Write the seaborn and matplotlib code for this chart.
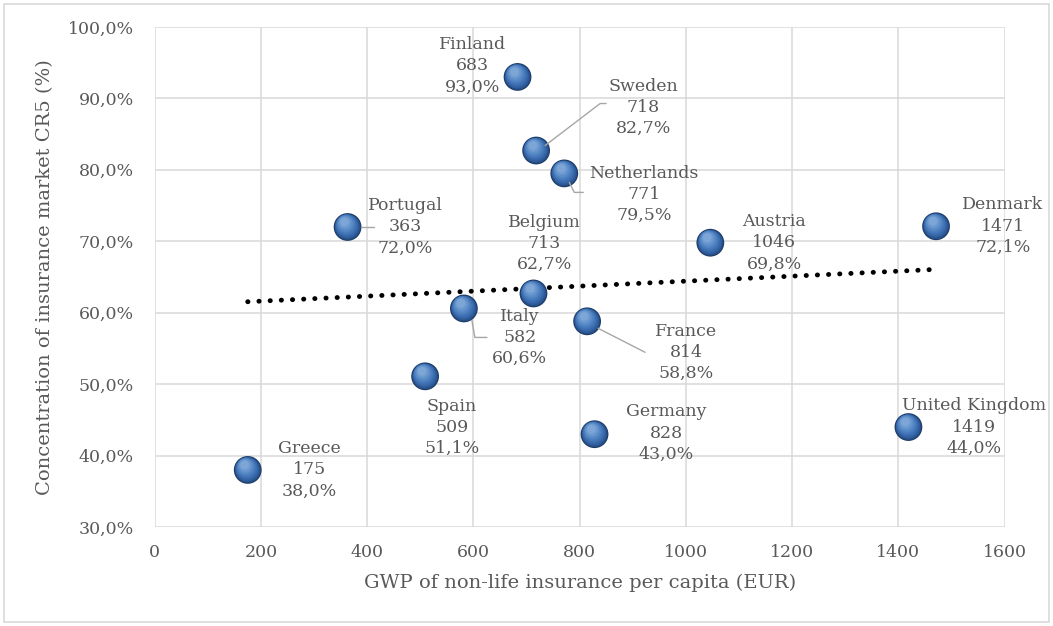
import numpy as np
import pandas as pd
import seaborn as sns
import matplotlib
matplotlib.use("Agg")
import matplotlib.pyplot as plt
from matplotlib.lines import Line2D
from matplotlib.patches import Rectangle
from matplotlib.transforms import IdentityTransform, offset_copy

# --- data -------------------------------------------------------------
countries = ["Greece", "Portugal", "Spain", "Italy", "Finland", "Belgium",
             "Sweden", "Netherlands", "France", "Germany", "Austria",
             "United Kingdom", "Denmark"]
gwp_per_capita = [175, 363, 509, 582, 683, 713, 718, 771, 814, 828, 1046,
                  1419, 1471]
cr5_pct = [38.0, 72.0, 51.1, 60.6, 93.0, 62.7, 82.7, 79.5, 58.8, 43.0, 69.8,
           44.0, 72.1]

df = pd.DataFrame({"country": countries, "gwp": gwp_per_capita, "cr5": cr5_pct})

# label placement (pixel offsets from the marker, y up)
label_offsets = {
    "Greece": (62, 0), "Portugal": (58, 0), "Spain": (27, -51),
    "Italy": (56, -29), "Finland": (-45, 11), "Belgium": (11, 50),
    "Sweden": (107, 43), "Netherlands": (80, -21), "France": (99, -31),
    "Germany": (72, 1), "Austria": (64, 0), "United Kingdom": (66, 0),
    "Denmark": (67, 0),
}
# leader lines (pixel offsets from the marker, y up)
leaders = {
    "Portugal": [(13, 0), (26, 0)],
    "Sweden": [(9, 5), (64, 47), (70, 47)],
    "Netherlands": [(5, -9), (10, -19), (19, -19)],
    "Italy": [(8, -12), (11, -29), (23, -29)],
    "France": [(11, -7), (58, -31)],
}

# --- styling ----------------------------------------------------------
sns.set_theme(style="white")
plt.rcParams["font.family"] = ["DejaVu Serif"]
text_grey = "#595959"
grid_grey = "#D9D9D9"

fig = plt.figure(figsize=(10.53, 6.26), dpi=100)
ax = fig.add_axes([0.147, 0.158, 0.807, 0.799])

ax.set_xlim(0, 1600)
ax.set_ylim(30, 100)
ax.set_xticks(np.arange(0, 1601, 200))
ax.set_yticks(np.arange(30, 101, 10))
ax.set_yticklabels([f"{v:.1f}%".replace(".", ",") for v in np.arange(30, 101, 10)])
ax.tick_params(axis="y", colors=text_grey, labelsize=12.5, length=0, pad=15)
ax.tick_params(axis="x", colors=text_grey, labelsize=12.5, length=0, pad=12)
ax.grid(True, color=grid_grey, linewidth=1.1)
ax.set_axisbelow(True)
for s in ax.spines.values():
    s.set_visible(False)

ax.set_xlabel("GWP of non-life insurance per capita (EUR)", color=text_grey,
              fontsize=14, labelpad=9)
ax.set_ylabel("Concentration of insurance market CR5 (%)", color=text_grey,
              fontsize=14, labelpad=10)

# linear trend line
slope, intercept = np.polyfit(df["gwp"], df["cr5"], 1)
xt = np.array([df["gwp"].min(), df["gwp"].max()])
ax.plot(xt, slope * xt + intercept, color="black", linewidth=3.5,
        linestyle=(0, (0.05, 2.25)), dash_capstyle="round", zorder=2)

# shaded spheres: dark rim, mid-blue body, soft highlight toward upper left
sns.scatterplot(data=df, x="gwp", y="cr5", s=400, color="#1E3C66",
                edgecolor="none", ax=ax, zorder=4, legend=False)
shades = ["#27508A", "#2F5C9A", "#3666A8", "#3D6FB2", "#4678BA", "#5083C2",
          "#5C8DC8", "#6B99CF", "#7DA6D6"]
sizes = np.linspace(340, 40, len(shades))
for i, (c, sz) in enumerate(zip(shades, sizes)):
    shift = 3.6 * i / (len(shades) - 1)
    tr = offset_copy(ax.transData, fig=fig, x=-shift * 0.6, y=shift, units="points")
    ax.scatter(df["gwp"], df["cr5"], s=sz, color=c, edgecolor="none",
               transform=tr, zorder=5 + i * 0.01)

# data labels
for _, r in df.iterrows():
    dx, dy = label_offsets[r["country"]]
    txt = f"{r['country']}\n{r['gwp']}\n{r['cr5']:.1f}%".replace(".", ",")
    ax.annotate(txt, xy=(r["gwp"], r["cr5"]), xytext=(dx, dy),
                textcoords="offset pixels", ha="center", va="center",
                fontsize=12.5, color=text_grey, linespacing=1.33, zorder=6)

# leader lines
for name, pts in leaders.items():
    r = df[df["country"] == name].iloc[0]
    cx, cy = ax.transData.transform((r["gwp"], r["cr5"]))
    xs = [cx + p[0] for p in pts]
    ys = [cy + p[1] for p in pts]
    fig.add_artist(Line2D(xs, ys, transform=IdentityTransform(),
                          color="#A6A6A6", linewidth=1.0, zorder=3))

# outer frame
fig.add_artist(Rectangle((0.004, 0.006), 0.992, 0.988, transform=fig.transFigure,
                         fill=False, edgecolor=grid_grey, linewidth=1.2))

fig.savefig("out.png", dpi=100)
